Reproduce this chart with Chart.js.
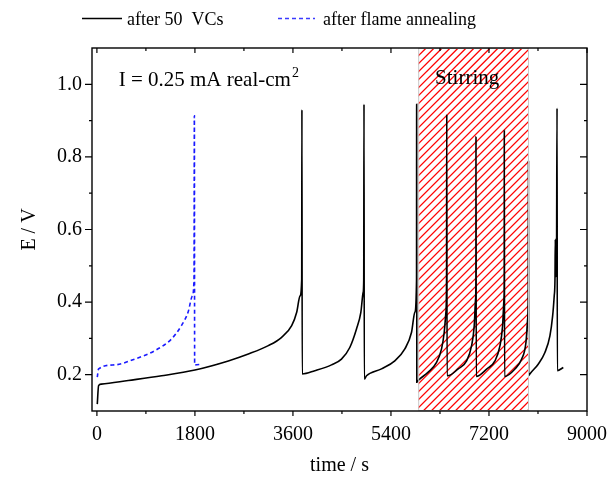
<!DOCTYPE html>
<html>
<head>
<meta charset="utf-8">
<script src="https://cdn.jsdelivr.net/npm/chart.js@4.4.1/dist/chart.umd.min.js"></script>
<style>
  html, body { margin: 0; padding: 0; background: #fff; }
  #wrap { width: 611px; height: 480px; position: relative; }
</style>
</head>
<body>
<div id="wrap"><canvas id="chart"></canvas></div>
<script>
// Potential transients (time in s, E in V)
const vcTime = [7, 31, 80, 575, 1188, 1800, 2413, 2781, 3148, 3393, 3577, 3669, 3730, 3761, 3765, 3770,
  4001, 4308, 4491, 4644, 4767, 4847, 4890, 4900, 4905, 4910,
  4951, 5226, 5471, 5655, 5778, 5839, 5870, 5872, 5875,
  5900, 6084, 6237, 6329, 6378, 6409, 6421, 6425, 6430,
  6440, 6635, 6789, 6881, 6929, 6954, 6960, 6962, 6966,
  7162, 7310, 7402, 7450, 7475, 7480, 7482, 7486,
  7677, 7800, 7879, 7910, 7921, 7925, 7928, 7950,
  8104, 8227, 8319, 8369, 8398, 8412, 8418, 8424, 8440, 8450, 8455, 8565];
const vcE = [0.119, 0.17, 0.174, 0.184, 0.197, 0.213, 0.238, 0.257, 0.28, 0.303, 0.335, 0.372, 0.417, 0.463, 0.93, 0.202,
  0.211, 0.227, 0.243, 0.275, 0.326, 0.372, 0.427, 0.463, 0.945, 0.188,
  0.197, 0.216, 0.238, 0.271, 0.317, 0.372, 0.463, 0.945, 0.179,
  0.184, 0.207, 0.234, 0.271, 0.317, 0.372, 0.463, 0.917, 0.197,
  0.197, 0.216, 0.238, 0.28, 0.335, 0.408, 0.463, 0.856, 0.195,
  0.216, 0.238, 0.28, 0.335, 0.408, 0.463, 0.874, 0.195,
  0.216, 0.243, 0.289, 0.353, 0.427, 0.79, 0.197, 0.202,
  0.229, 0.261, 0.307, 0.362, 0.417, 0.463, 0.573, 0.47, 0.52, 0.934, 0.211, 0.22];

const faTime = [7, 31, 325, 693, 1061, 1367, 1551, 1674, 1753, 1783, 1790, 1795, 1919];
const faE = [0.193, 0.216, 0.227, 0.243, 0.266, 0.298, 0.335, 0.372, 0.417, 0.463, 0.913, 0.227, 0.229];

const xTicks = [0, 1800, 3600, 5400, 7200, 9000];
const yTicks = [0.2, 0.4, 0.6, 0.8, 1.0];
const xMinor = [900, 2700, 4500, 6300, 8100];
const yMinor = [0.3, 0.5, 0.7, 0.9];
const stirring = [5900, 7935];

const FONT = "'Liberation Serif', 'DejaVu Serif', serif";

function toPoints(xs, ys) {
  return xs.map((x, i) => ({ x: x, y: ys[i] }));
}

// Hatched "Stirring" band, axis frame, ticks, labels and legend
const decorations = {
  id: 'decorations',
  beforeDatasetsDraw(chart) {
    const { ctx, chartArea, scales: { x } } = chart;
    const x0 = x.getPixelForValue(stirring[0]);
    const x1 = x.getPixelForValue(stirring[1]);
    const top = chartArea.top, bottom = chartArea.bottom;
    ctx.save();
    ctx.beginPath();
    ctx.rect(x0, top, x1 - x0, bottom - top);
    ctx.clip();
    ctx.strokeStyle = '#ff0000';
    ctx.lineWidth = 1.3;
    const h = bottom - top;
    for (let s = x0 - h; s < x1 + 8; s += 8) {
      ctx.beginPath();
      ctx.moveTo(s, bottom);
      ctx.lineTo(s + h, top);
      ctx.stroke();
    }
    ctx.restore();
  },
  afterDraw(chart) {
    const { ctx, chartArea, scales: { x, y } } = chart;
    const { left, right, top, bottom } = chartArea;
    ctx.save();

    // band outline
    const x0 = x.getPixelForValue(stirring[0]);
    const x1 = x.getPixelForValue(stirring[1]);
    ctx.strokeStyle = '#c8c8c8';
    ctx.lineWidth = 1;
    ctx.strokeRect(x0 + 0.5, top + 0.5, x1 - x0 - 1, bottom - top - 1);

    // frame
    ctx.strokeStyle = '#000';
    ctx.lineWidth = 1.4;
    ctx.strokeRect(left, top, right - left, bottom - top);

    // ticks: bottom/left point out, top/right point in
    ctx.lineWidth = 1.2;
    ctx.beginPath();
    xTicks.concat(xMinor).forEach(v => {
      const px = x.getPixelForValue(v);
      const len = xTicks.includes(v) ? 5 : 3;
      ctx.moveTo(px, bottom); ctx.lineTo(px, bottom + len);
      ctx.moveTo(px, top); ctx.lineTo(px, top + len);
    });
    yTicks.concat(yMinor).forEach(v => {
      const py = y.getPixelForValue(v);
      const len = yTicks.includes(v) ? 7 : 3;
      ctx.moveTo(left, py); ctx.lineTo(left - len, py);
      ctx.moveTo(right, py); ctx.lineTo(right - len, py);
    });
    ctx.stroke();

    // annotations
    ctx.fillStyle = '#000';
    ctx.textBaseline = 'alphabetic';
    ctx.textAlign = 'left';
    ctx.font = '21px ' + FONT;
    const ax = x.getPixelForValue(400), ay = y.getPixelForValue(0.995);
    const txt = 'I = 0.25 mA real-cm';
    ctx.fillText(txt, ax, ay);
    const w = ctx.measureText(txt).width;
    ctx.font = '14px ' + FONT;
    ctx.fillText('2', ax + w + 1, ay - 9);
    ctx.font = '21px ' + FONT;
    ctx.fillText('Stirring', x.getPixelForValue(6210), y.getPixelForValue(1.0));

    // legend
    ctx.font = '18px ' + FONT;
    ctx.lineWidth = 1.5;
    ctx.strokeStyle = '#000';
    ctx.beginPath(); ctx.moveTo(82, 18.5); ctx.lineTo(122, 18.5); ctx.stroke();
    ctx.fillText('after 50  VCs', 127, 25);
    ctx.strokeStyle = '#3a3aff';
    ctx.setLineDash([4, 3]);
    ctx.beginPath(); ctx.moveTo(278, 18.5); ctx.lineTo(315, 18.5); ctx.stroke();
    ctx.setLineDash([]);
    ctx.fillText('after flame annealing', 323, 25);
    ctx.restore();
  }
};

new Chart(document.getElementById('chart'), {
  type: 'scatter',
  data: {
    datasets: [
      {
        label: 'after 50  VCs',
        data: toPoints(vcTime, vcE),
        showLine: true,
        borderColor: '#000000',
        borderWidth: 1.6,
        pointRadius: 0,
        cubicInterpolationMode: 'monotone'
      },
      {
        label: 'after flame annealing',
        data: toPoints(faTime, faE),
        showLine: true,
        borderColor: '#1a1aff',
        borderWidth: 1.6,
        borderDash: [4, 3],
        pointRadius: 0,
        cubicInterpolationMode: 'monotone'
      }
    ]
  },
  options: {
    responsive: true,
    maintainAspectRatio: false,
    animation: false,
    layout: { padding: { left: 0, right: 24, top: 48, bottom: 0 } },
    plugins: { legend: { display: false }, tooltip: { enabled: false } },
    scales: {
      x: {
        type: 'linear',
        min: -90,
        max: 9000,
        afterBuildTicks: s => { s.ticks = xTicks.map(v => ({ value: v })); },
        afterFit: s => { s.height = 69; s.paddingLeft = 0; s.paddingRight = 0; },
        grid: { display: false, drawTicks: false },
        border: { display: false },
        ticks: { color: '#000', font: { family: FONT, size: 20 }, padding: 12, maxRotation: 0, callback: v => String(v) },
        title: { display: true, text: 'time / s', color: '#000', font: { family: FONT, size: 20 }, padding: { top: 0, bottom: 2 } }
      },
      y: {
        type: 'linear',
        min: 0.1,
        max: 1.1,
        afterBuildTicks: s => { s.ticks = yTicks.map(v => ({ value: v })); },
        afterFit: s => { s.width = 92; },
        grid: { display: false, drawTicks: false },
        border: { display: false },
        ticks: { color: '#000', font: { family: FONT, size: 20 }, padding: 10, callback: v => v.toFixed(1) },
        title: { display: true, text: 'E / V', color: '#000', font: { family: FONT, size: 20 }, padding: { top: 18, bottom: 0 } }
      }
    }
  },
  plugins: [decorations]
});
</script>
</body>
</html>
